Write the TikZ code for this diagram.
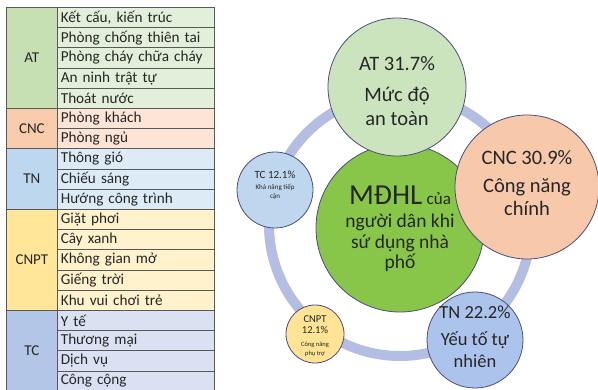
\documentclass[tikz,border=0pt]{standalone}
\usepackage{fontspec}
\setmainfont{Carlito}
\begin{document}
\begin{tikzpicture}[x=1pt,y=-1pt,
  cell/.style={draw=black!65, line width=0.7pt, anchor=north west, minimum height=20.2pt,
    text width=150pt, inner xsep=3.5pt, inner ysep=0pt, align=left, font=\fontsize{15.2}{16}\selectfont, text=black!85},
  lab/.style={draw=black!65, line width=0.7pt, anchor=north west, minimum width=51pt, inner sep=0pt,
    font=\fontsize{15}{16}\selectfont, text=black!85},
  bub/.style={circle, draw=black!55!blue!40!gray, line width=0.8pt, inner sep=0pt, align=center, text=black!80},
  btxt/.style={align=center, text=black!85, inner sep=0pt},
]
\useasboundingbox (0,0) rectangle (598,390);
\definecolor{atL}{HTML}{C6E0B4}\definecolor{atR}{HTML}{E2EFDA}
\definecolor{cncL}{HTML}{F8CBAD}\definecolor{cncR}{HTML}{FCE4D6}
\definecolor{tnL}{HTML}{BDD7EE}\definecolor{tnR}{HTML}{DDEBF7}
\definecolor{cnptL}{HTML}{FFE699}\definecolor{cnptR}{HTML}{FFF2CC}
\definecolor{tcL}{HTML}{B4C6E7}\definecolor{tcR}{HTML}{D9E1F2}
\definecolor{ringc}{RGB}{180,190,226}
\definecolor{bAT}{RGB}{204,228,190}
\definecolor{bCNC}{RGB}{247,200,170}
\definecolor{bMain}{RGB}{135,198,72}
\definecolor{bTC}{RGB}{190,214,238}
\definecolor{bCNPT}{RGB}{255,228,150}
\definecolor{bTN}{RGB}{172,196,236}
% table rows
\foreach \i/\t/\c in {0/{Kết cấu, kiến trúc}/atR, 1/{Phòng chống thiên tai}/atR, 2/{Phòng cháy chữa cháy}/atR,
  3/{An ninh trật tự}/atR, 4/{Thoát nước}/atR, 5/{Phòng khách}/cncR, 6/{Phòng ngủ}/cncR,
  7/{Thông gió}/tnR, 8/{Chiếu sáng}/tnR, 9/{Hướng công trình}/tnR,
  10/{Giặt phơi}/cnptR, 11/{Cây xanh}/cnptR, 12/{Không gian mở}/cnptR, 13/{Giếng trời}/cnptR, 14/{Khu vui chơi trẻ}/cnptR,
  15/{Y tế}/tcR, 16/{Thương mại}/tcR, 17/{Dịch vụ}/tcR, 18/{Công cộng}/tcR}
  \node[cell, fill=\c] (r\i) at (57, 7+20.2*\i) {\t};
% group labels
\node[lab, fill=atL, minimum height=101pt] (gAT) at (6,7) {AT};
\node[lab, fill=cncL, minimum height=40.4pt] (gCNC) at (6,108) {CNC};
\node[lab, fill=tnL, minimum height=60.6pt] (gTN) at (6,148.4) {TN};
\node[lab, fill=cnptL, minimum height=101pt] (gCNPT) at (6,209) {CNPT};
\node[lab, fill=tcL, minimum height=80.8pt] (gTC) at (6,310) {TC};
% ring
\coordinate (rc) at (400,225);
\draw[ringc, line width=10pt] (rc) circle[radius=131pt];
% bubbles
\node[bub, fill=bTC, minimum size=76pt] (tc) at (275,190) {};
\node[btxt, font=\fontsize{7}{8.5}\selectfont] (tct) at (275,185) {{\fontsize{11}{13}\selectfont TC 12.1\%}\\[3pt]Khả năng tiếp\\cận};
\node[bub, fill=bCNPT, minimum size=58pt] (cnpt) at (315,334) {};
\node[btxt, font=\fontsize{10.5}{10.5}\selectfont] (cnptt) at (315,336) {CNPT\\12.1\%\\[3pt]{\fontsize{6.5}{8}\selectfont Công năng}\\[-2pt]{\fontsize{6.5}{8}\selectfont phụ trợ}};
\node[bub, fill=bMain, minimum size=168pt] (main) at (400,228) {};
\node[btxt, font=\fontsize{19.5}{20.5}\selectfont] (maint) at (400,229) {{\fontsize{29}{26}\selectfont MĐHL} {\fontsize{17}{20}\selectfont của}\\[3pt]người dân khi\\sứ dụng nhà\\phố};
\node[bub, fill=bAT, minimum size=138pt] (at) at (397,87) {};
\node[btxt, font=\fontsize{20.5}{23.5}\selectfont] (att) at (397,91) {AT 31.7\%\\[8pt]Mức độ\\an toàn};
\node[bub, fill=bCNC, minimum size=144pt] (cnc) at (527,187) {};
\node[btxt, font=\fontsize{20.5}{23}\selectfont] (cnct) at (527,183) {CNC 30.9\%\\[5pt]Công năng\\chính};
\node[bub, fill=bTN, minimum size=96pt] (tn) at (475,340) {};
\node[btxt, font=\fontsize{18.5}{22}\selectfont] (tnt) at (475,337) {TN 22.2\%\\[5pt]Yếu tố tự\\nhiên};
\end{tikzpicture}
\end{document}
